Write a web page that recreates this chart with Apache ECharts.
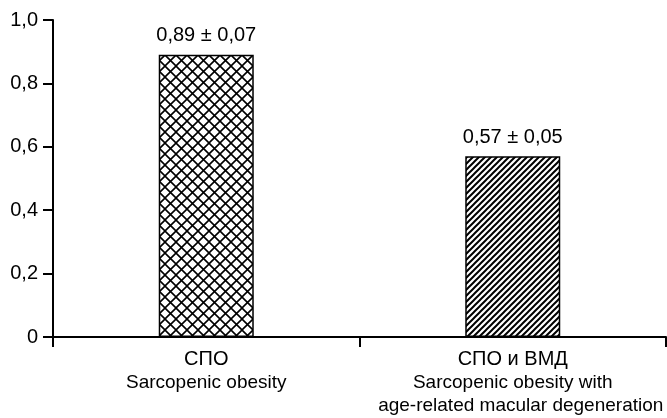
<!DOCTYPE html>
<html>
<head>
<meta charset="utf-8">
<style>
  html, body { margin: 0; padding: 0; background: #fff; }
  #chart { width: 667px; height: 418px; }
</style>
<script src="https://cdn.jsdelivr.net/npm/echarts@6/dist/echarts.min.js"></script>
</head>
<body>
<div id="chart"></div>
<script>
// data
const categoriesRu = ['СПО', 'СПО и ВМД']
const categoriesEn = [['Sarcopenic obesity'], ['Sarcopenic obesity with', 'age-related macular degeneration']]
const meanValues = [0.89, 0.57]
const valueLabels = ['0,89 ± 0,07', '0,57 ± 0,05']
const yTickLabels = ['0', '0,2', '0,4', '0,6', '0,8', '1,0']

// hatch fills
function crossHatch() {
  const s = 11
  const c = document.createElement('canvas')
  c.width = s
  c.height = s
  const ctx = c.getContext('2d')
  ctx.fillStyle = '#fff'
  ctx.fillRect(0, 0, s, s)
  ctx.strokeStyle = '#000'
  ctx.lineWidth = 1.6
  ctx.beginPath()
  ctx.moveTo(0, 0); ctx.lineTo(s, s)
  ctx.moveTo(s, 0); ctx.lineTo(0, s)
  ctx.stroke()
  return c
}

function diagHatch() {
  const s = 6
  const c = document.createElement('canvas')
  c.width = s
  c.height = s
  const ctx = c.getContext('2d')
  ctx.fillStyle = '#fff'
  ctx.fillRect(0, 0, s, s)
  ctx.strokeStyle = '#000'
  ctx.lineWidth = 2
  ctx.beginPath()
  ctx.moveTo(0, s); ctx.lineTo(s, 0)
  ctx.moveTo(-1, 1); ctx.lineTo(1, -1)
  ctx.moveTo(s - 1, s + 1); ctx.lineTo(s + 1, s - 1)
  ctx.stroke()
  return c
}

const fills = [crossHatch(), diagHatch()]
const font = '"Liberation Sans", Arial, sans-serif'

const chart = echarts.init(document.getElementById('chart'))
chart.setOption({
  animation: false,
  textStyle: { fontFamily: font, color: '#000' },
  grid: { left: 53, right: 1, top: 20, bottom: 81, outerBoundsMode: 'none' },
  xAxis: {
    type: 'category',
    data: categoriesRu,
    axisLine: { lineStyle: { color: '#000', width: 2 } },
    axisTick: { show: true, length: 10, lineStyle: { color: '#000', width: 2 } },
    axisLabel: {
      margin: 11,
      interval: 0,
      // last english line sits flush to the right edge in the original
      formatter: (v, i) => '{ru|' + v + '}\n' +
        categoriesEn[i].map((t, j) => (j === 1 ? '{en2|' : '{en|') + t + '}').join('\n'),
      rich: {
        ru: { fontFamily: font, fontSize: 20, lineHeight: 23, color: '#000' },
        en: { fontFamily: font, fontSize: 19, lineHeight: 23, color: '#000' },
        en2: { fontFamily: font, fontSize: 19, lineHeight: 23, color: '#000', padding: [0, 0, 0, 16] }
      }
    }
  },
  yAxis: {
    type: 'value',
    min: 0,
    max: 1,
    interval: 0.2,
    splitLine: { show: false },
    axisLine: { show: true, lineStyle: { color: '#000', width: 2 } },
    axisTick: { show: true, length: 10, lineStyle: { color: '#000', width: 2 } },
    axisLabel: {
      margin: 15,
      fontSize: 20,
      color: '#000',
      fontFamily: font,
      formatter: v => yTickLabels[Math.round(v / 0.2)]
    }
  },
  series: [{
    type: 'bar',
    barWidth: '31%',
    data: meanValues.map((v, i) => ({
      value: v,
      itemStyle: {
        color: { image: fills[i], repeat: 'repeat' },
        borderColor: '#000',
        borderWidth: 1.5
      }
    })),
    label: {
      show: true,
      position: 'top',
      distance: 9,
      fontSize: 20,
      color: '#000',
      fontFamily: font,
      formatter: p => valueLabels[p.dataIndex]
    }
  }]
})
</script>
</body>
</html>
